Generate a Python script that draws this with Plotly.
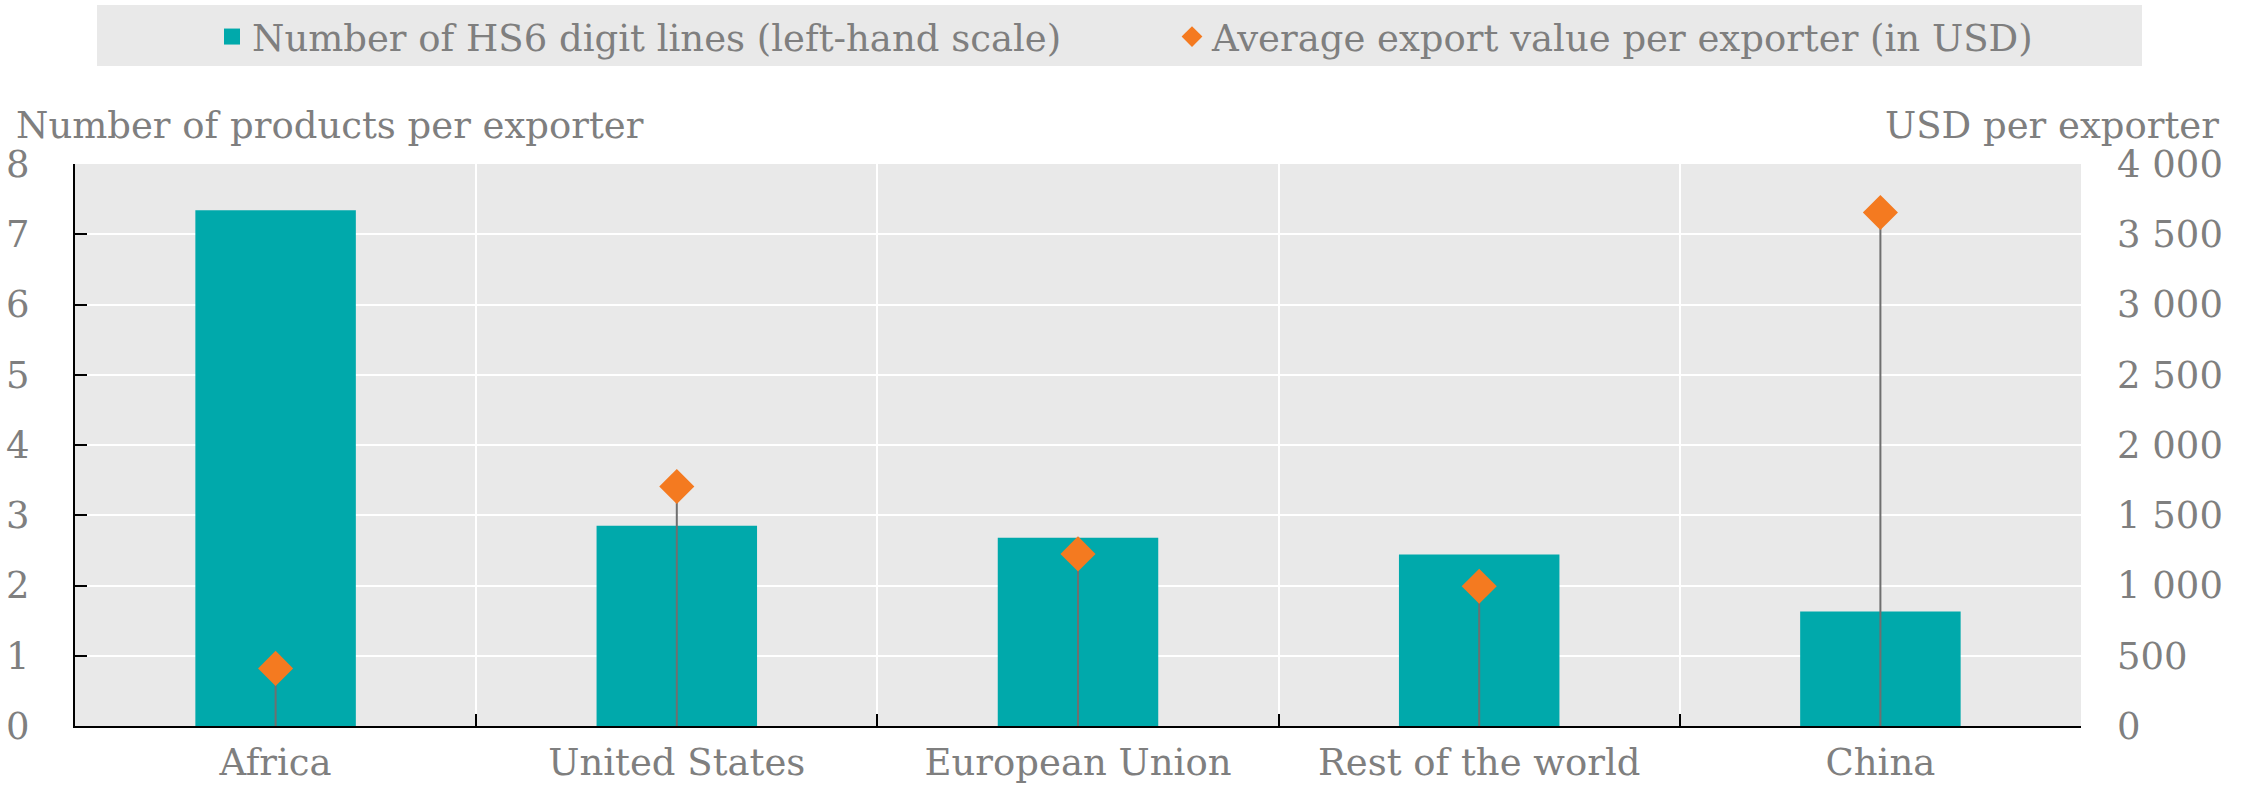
import plotly.graph_objects as go

categories = ["Africa", "United States", "European Union", "Rest of the world", "China"]
hs6_lines = [7.34, 2.85, 2.68, 2.44, 1.63]
avg_export_usd = [410, 1705, 1225, 995, 3655]

bar_name = "Number of HS6 digit lines (left-hand scale)"
dot_name = "Average export value per exporter (in USD)"
left_title = "Number of products per exporter"
right_title = "USD per exporter"

TEAL = "#00A9AB"
ORANGE = "#F47A20"
GREY_TXT = "#7f7f7f"
BG = "#E9E9E9"
FONT = "DejaVu Serif"
FS = 37

W, H = 2259, 788
L, R, T, B = 75, 178, 164, 62
pw = W - L - R
ph = H - T - B


def px_x(x):
    return (x - L) / pw


def px_y(y):
    return (H - B - y) / ph


fig = go.Figure()

fig.add_trace(go.Bar(
    x=categories, y=hs6_lines, name=bar_name, marker=dict(color=TEAL, line=dict(width=0)),
    showlegend=False, yaxis="y",
))
# legend entry for bars (square marker)
fig.add_trace(go.Scatter(
    x=[None], y=[None], mode="markers", name=bar_name,
    marker=dict(symbol="square", color=TEAL, size=16), yaxis="y",
))
fig.add_trace(go.Scatter(
    x=categories, y=avg_export_usd, name=dot_name, mode="markers", yaxis="y2",
    marker=dict(symbol="diamond", color=ORANGE, size=27, line=dict(width=0)),
    error_y=dict(type="data", symmetric=False, array=[0] * len(avg_export_usd),
                 arrayminus=avg_export_usd, thickness=2, width=0, color="#6f6f6f"),
))

fig.update_layout(
    width=W, height=H,
    margin=dict(l=L, r=R, t=T, b=B, pad=0, autoexpand=False),
    paper_bgcolor="white", plot_bgcolor=BG,
    font=dict(family=FONT, size=FS, color=GREY_TXT),
    bargap=0.6,
    separators=". ",
    showlegend=True,
    legend=dict(
        orientation="h", x=px_x(212), xanchor="left", y=px_y(37), yanchor="middle",
        bgcolor="rgba(0,0,0,0)", font=dict(family=FONT, size=FS, color=GREY_TXT),
        entrywidth=915, entrywidthmode="pixels", itemsizing="trace",
    ),
    xaxis=dict(
        type="category", tickson="boundaries", ticks="inside", ticklen=12, tickwidth=2,
        tickcolor="black", showline=True, linecolor="black", linewidth=2,
        showgrid=True, gridcolor="white", gridwidth=2, ticklabelstandoff=3,
        tickfont=dict(family=FONT, size=FS, color=GREY_TXT), mirror=False, automargin=False,
    ),
    yaxis=dict(
        range=[0, 8], dtick=1, tick0=0, ticks="inside", ticklen=12, tickwidth=2,
        tickcolor="black", showline=True, linecolor="black", linewidth=2,
        showgrid=True, gridcolor="white", gridwidth=2, zeroline=False, automargin=False,
        ticklabelstandoff=36, tickfont=dict(family=FONT, size=FS, color=GREY_TXT),
    ),
    yaxis2=dict(
        range=[0, 4000], dtick=500, tick0=0, overlaying="y", side="right",
        ticks="", showline=False, showgrid=False, zeroline=False, tickformat=",d",
        automargin=False,
        ticklabelstandoff=35, tickfont=dict(family=FONT, size=FS, color=GREY_TXT),
    ),
    shapes=[dict(
        type="rect", xref="paper", yref="paper", x0=px_x(97), x1=px_x(2142),
        y0=px_y(66), y1=px_y(5), fillcolor=BG, line=dict(width=0), layer="below",
    )],
    annotations=[
        dict(text=left_title, xref="paper", yref="paper", x=px_x(14), xanchor="left",
             y=px_y(125), yanchor="middle", showarrow=False,
             font=dict(family=FONT, size=FS, color=GREY_TXT)),
        dict(text=right_title, xref="paper", yref="paper", x=px_x(2221), xanchor="right",
             y=px_y(125), yanchor="middle", showarrow=False,
             font=dict(family=FONT, size=FS, color=GREY_TXT)),
    ],
)

fig.write_html(
    "out.html",
    config={"displayModeBar": False},
    post_script="document.body.style.margin='0';document.body.style.overflow='hidden';",
)
